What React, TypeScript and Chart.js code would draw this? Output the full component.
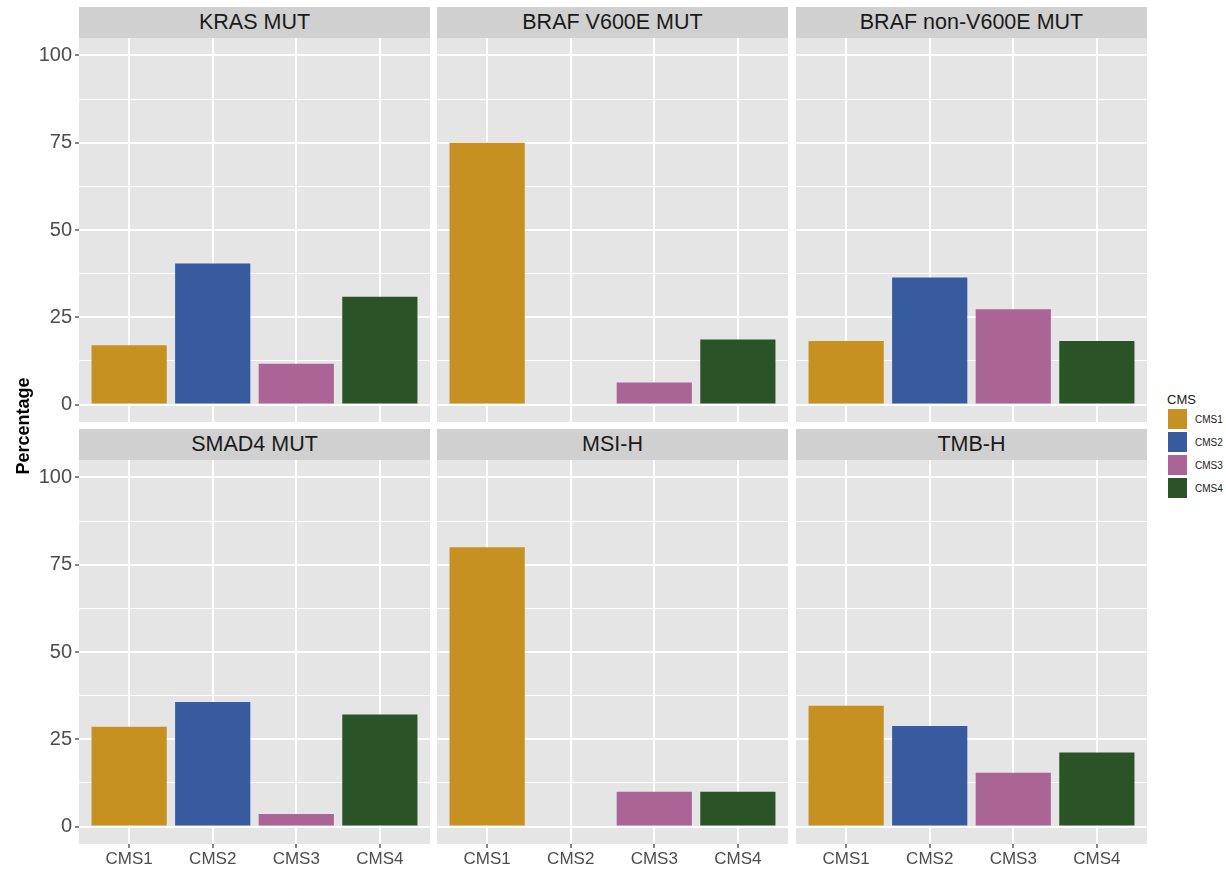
import React, { useEffect, useRef } from "react";
import { Chart, registerables } from "chart.js";

Chart.register(...registerables);

// ---------- data ----------
const categories = ["CMS1", "CMS2", "CMS3", "CMS4"];
const facetTitles = ["KRAS MUT", "BRAF V600E MUT", "BRAF non-V600E MUT", "SMAD4 MUT", "MSI-H", "TMB-H"];
const krasMut = [17.0, 40.4, 11.7, 30.9];
const brafV600eMut = [75.0, 0, 6.3, 18.6];
const brafNonV600eMut = [18.2, 36.4, 27.3, 18.2];
const smad4Mut = [28.6, 35.7, 3.6, 32.1];
const msiH = [80.0, 0, 10.0, 10.0];
const tmbH = [34.6, 28.8, 15.4, 21.2];
const yMajorTicks = [0, 25, 50, 75, 100];
const yMinorTicks = [12.5, 37.5, 62.5, 87.5];
const cmsColors = ["#C69120", "#385A9F", "#AA6596", "#2A5428"];
const legendTitle = "CMS";
const yAxisTitle = "Percentage";

const facetValues = [krasMut, brafV600eMut, brafNonV600eMut, smad4Mut, msiH, tmbH];

// ---------- layout ----------
const FONT = "'Liberation Sans', Arial, Helvetica, sans-serif";
const PANEL_BG = "#E5E5E5";
const STRIP_BG = "#D0D0D0";
const colLefts = [79, 437, 796];
const PANEL_W = 351;
const stripTops = [7, 429];
const STRIP_H = 31;
const panelTops = [38, 460];
const PANEL_H = 384;
const Y_AXIS_W = 79;
const X_AXIS_H = 27;

const bgPlugin = {
  id: "panelBg",
  beforeDraw(chart: any) {
    const { ctx, chartArea } = chart;
    ctx.save();
    ctx.fillStyle = PANEL_BG;
    ctx.fillRect(chartArea.left, chartArea.top, chartArea.right - chartArea.left, chartArea.bottom - chartArea.top);
    ctx.restore();
  },
};

function Panel({ idx }: { idx: number }) {
  const ref = useRef<HTMLCanvasElement | null>(null);
  const row = Math.floor(idx / 3);
  const col = idx % 3;
  const showY = col === 0;
  const showX = row === 1;
  const left = showY ? colLefts[col] - Y_AXIS_W : colLefts[col];
  const width = PANEL_W + (showY ? Y_AXIS_W : 0);
  const top = panelTops[row];
  const height = PANEL_H + (showX ? X_AXIS_H : 0);

  useEffect(() => {
    if (!ref.current) return;
    const values = facetValues[idx];
    const allY = [...yMajorTicks, ...yMinorTicks].sort((a, b) => a - b);
    const chart = new Chart(ref.current, {
      type: "bar",
      data: {
        datasets: [
          {
            data: values.map((v, i) => ({ x: i + 1, y: v })),
            backgroundColor: cmsColors,
            borderWidth: 0,
            categoryPercentage: 0.9,
            barPercentage: 1.0,
          } as any,
        ],
      },
      options: {
        animation: false,
        responsive: true,
        maintainAspectRatio: false,
        layout: { padding: 0 },
        plugins: { legend: { display: false }, tooltip: { enabled: false }, title: { display: false } },
        scales: {
          x: {
            type: "linear",
            min: 0.4,
            max: 4.6,
            offset: false,
            afterBuildTicks: (scale: any) => {
              scale.ticks = categories.map((_, i) => ({ value: i + 1 }));
            },
            afterFit: (scale: any) => {
              scale.height = showX ? X_AXIS_H : 0;
              scale.paddingLeft = 0;
              scale.paddingRight = 0;
            },
            ticks: {
              display: showX,
              autoSkip: false,
              maxRotation: 0,
              padding: 1,
              color: "#4D4D4D",
              font: { family: FONT, size: 17 },
              callback: (_v: any, i: number) => categories[i],
            },
            grid: {
              offset: false,
              color: "#FFFFFF",
              lineWidth: 2,
              drawTicks: showX,
              tickLength: 4,
              tickColor: "#333333",
              tickWidth: 1.2,
            },
            border: { display: false },
          },
          y: {
            type: "linear",
            min: -5,
            max: 105,
            afterBuildTicks: (scale: any) => {
              scale.ticks = allY.map((v) => ({ value: v }));
            },
            afterFit: (scale: any) => {
              scale.width = showY ? Y_AXIS_W : 0;
              scale.paddingTop = 0;
              scale.paddingBottom = 0;
            },
            ticks: {
              display: showY,
              autoSkip: false,
              padding: 3,
              color: "#4D4D4D",
              font: { family: FONT, size: 20 },
              callback: (v: any) => (yMajorTicks.includes(v) ? String(v) : ""),
            },
            grid: {
              color: "#FFFFFF",
              lineWidth: (ctx: any) => (yMajorTicks.includes(ctx.tick?.value) ? 2 : 1),
              drawTicks: showY,
              tickLength: 4,
              tickColor: (ctx: any) => (yMajorTicks.includes(ctx.tick?.value) ? "#333333" : "rgba(0,0,0,0)"),
              tickWidth: 1.2,
            },
            border: { display: false },
          },
        },
      } as any,
      plugins: [bgPlugin],
    });
    return () => chart.destroy();
  }, [idx]);

  return (
    <div style={{ position: "absolute", left, top, width, height }}>
      <canvas ref={ref} />
    </div>
  );
}

export default function App() {
  return (
    <div style={{ position: "absolute", left: 0, top: 0, width: 1226, height: 871, background: "#FFFFFF", fontFamily: FONT }}>
      {facetTitles.map((t, i) => {
        const row = Math.floor(i / 3);
        const col = i % 3;
        return (
          <div
            key={"s" + i}
            style={{
              position: "absolute",
              left: colLefts[col],
              top: stripTops[row],
              width: PANEL_W,
              height: STRIP_H,
              background: STRIP_BG,
              color: "#1A1A1A",
              fontSize: 21.5,
              lineHeight: STRIP_H + "px",
              textAlign: "center",
              whiteSpace: "nowrap",
            }}
          >
            {t}
          </div>
        );
      })}
      {facetTitles.map((_, i) => (
        <Panel key={"p" + i} idx={i} />
      ))}
      <div
        style={{
          position: "absolute",
          left: 23 - 100,
          top: 426 - 11,
          width: 200,
          height: 22,
          lineHeight: "22px",
          textAlign: "center",
          fontWeight: "bold",
          fontSize: 18,
          color: "#000000",
          transform: "rotate(-90deg)",
          whiteSpace: "nowrap",
        }}
      >
        {yAxisTitle}
      </div>
      <div style={{ position: "absolute", left: 1167, top: 393, fontSize: 13, lineHeight: "13px", color: "#1A1A1A" }}>{legendTitle}</div>
      {categories.map((c, i) => (
        <React.Fragment key={"l" + i}>
          <div
            style={{
              position: "absolute",
              left: 1168,
              top: 409 + i * 23,
              width: 19,
              height: 20,
              background: cmsColors[i],
            }}
          />
          <div
            style={{
              position: "absolute",
              left: 1195,
              top: 409 + i * 23,
              height: 20,
              display: "flex",
              alignItems: "center",
              fontSize: 10,
              color: "#1A1A1A",
            }}
          >
            {c}
          </div>
        </React.Fragment>
      ))}
    </div>
  );
}
